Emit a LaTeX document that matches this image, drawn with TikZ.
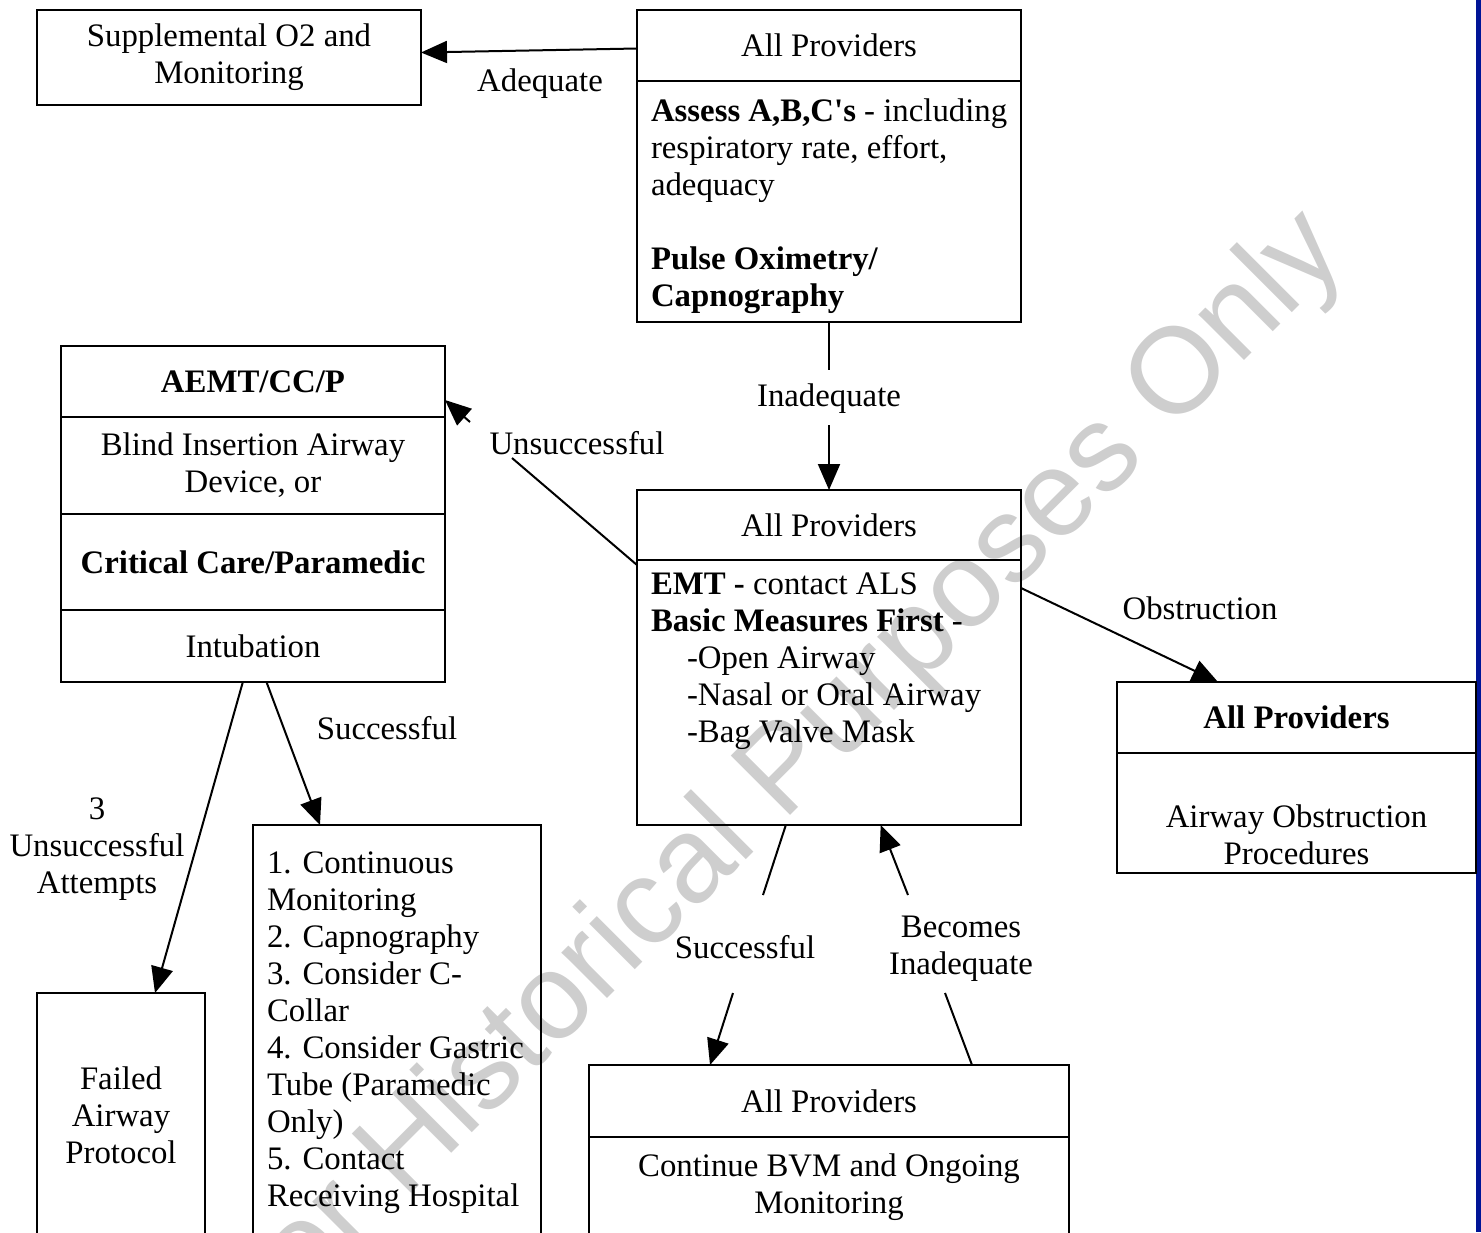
\documentclass[tikz,border=0pt]{standalone}
\usepackage{fontspec}
\setmainfont{Liberation Serif}
\newfontfamily\wmfont{Liberation Sans}
\usepackage{xcolor}
\usepackage{tikz}
\usetikzlibrary{arrows.meta}
\definecolor{wmgray}{RGB}{206,206,206}
\definecolor{edgeblue}{RGB}{0,20,150}

\begin{document}
\begin{tikzpicture}[x=0.5pt, y=-0.5pt, font=\fontsize{16.4pt}{18.5pt}\selectfont,
  box/.style={draw, line width=1.2pt, inner sep=0, outer sep=0, align=center},
  txt/.style={inner sep=0, outer sep=0, align=left, anchor=north west},
  lbl/.style={inner sep=0, align=center},
  arr/.style={line width=1pt, -{Triangle[length=13pt,width=11pt]}}]
\path[use as bounding box, clip] (0,0) rectangle (1481,1232);

% watermark
\node[inner sep=0, rotate=45, text=wmgray, font=\wmfont\fontsize{61pt}{61pt}\selectfont] (wm) at (778,783) {For Historical Purposes Only};
\fill[edgeblue] (1476,0) rectangle (1481,1232);

% boxes
\node[box, minimum width=192pt, minimum height=47.5pt] (s) at (229,57.5) {Supplemental O2 and\\ Monitoring};

\node[box, minimum width=192pt, minimum height=35.5pt] (a1) at (829,45.5) {All Providers};
\node[box, minimum width=192pt, minimum height=120.5pt] (a2) at (829,201.5) {};
\node[txt] (at) at (651,98.6) {\textbf{Assess A,B,C\textquotesingle s} - including\\ respiratory rate, effort,\\ adequacy\\[18.5pt] \textbf{Pulse Oximetry/}\\ \textbf{Capnography}};

\node[box, minimum width=192pt, minimum height=35pt] (b1) at (829,525) {All Providers};
\node[box, minimum width=192pt, minimum height=132.5pt] (b2) at (829,692.5) {};
\node[txt] (bt) at (651,572.6) {\textbf{EMT -} contact ALS\\ \textbf{Basic Measures First} -\\ \hspace*{18pt}-Open Airway\\ \hspace*{18pt}-Nasal or Oral Airway\\ \hspace*{18pt}-Bag Valve Mask};

\node[box, minimum width=192pt, minimum height=35.5pt] (c1) at (253,381.5) {\textbf{AEMT/CC/P}};
\node[box, minimum width=192pt, minimum height=48.5pt] (c2) at (253,465.5) {Blind Insertion Airway\\ Device, or};
\node[box, minimum width=192pt, minimum height=48pt] (c3) at (253,562) {\textbf{Critical Care/Paramedic}};
\node[box, minimum width=192pt, minimum height=36pt] (c4) at (253,646) {Intubation};

\node[box, minimum width=144pt, minimum height=237.5pt] (d) at (397,1062.5) {};
\node[txt] (dt) at (267,852) {1. Continuous\\ Monitoring\\ 2. Capnography\\ 3. Consider C-\\ Collar\\ 4. Consider Gastric\\ Tube (Paramedic\\ Only)\\ 5. Contact\\ Receiving Hospital};

\node[box, minimum width=84pt, minimum height=153.5pt] (f) at (121,1146.5) {};
\node[lbl] (ft) at (121,1115) {Failed\\ Airway\\ Protocol};

\node[box, minimum width=179.5pt, minimum height=35.5pt] (e1) at (1296.5,717.5) {\textbf{All Providers}};
\node[box, minimum width=179.5pt, minimum height=60pt] (e2) at (1296.5,813) {};
\node[lbl] (et) at (1296.5,835) {Airway Obstruction\\ Procedures};

\node[box, minimum width=240pt, minimum height=36pt] (g1) at (829,1101) {All Providers};
\node[box, minimum width=240pt, minimum height=81.5pt] (g2) at (829,1218.5) {};
\node[lbl] (gt) at (829,1187) {Continue BVM and Ongoing\\ Monitoring};

% labels
\node[lbl] (ade) at (540,84) {Adequate};
\node[lbl] (ina) at (829,399) {Inadequate};
\node[lbl] (uns) at (577,443) {Unsuccessful};
\node[lbl] (suc1) at (387,728) {Successful};
\node[lbl] (att) at (97,849) {3\\ Unsuccessful\\ Attempts};
\node[lbl] (suc2) at (745,947) {Successful};
\node[lbl] (bec) at (961,948.5) {Becomes\\ Inadequate};
\node[lbl] (obs) at (1200,608) {Obstruction};

% line breaks round the labels
\coordinate (i1) at (829,370);
\coordinate (i2) at (829,425);
\coordinate (u1) at (512,458);
\coordinate (u2) at (470,422);
\coordinate (s1) at (763,895);
\coordinate (s2) at (733,993);
\coordinate (bi1) at (945,993);
\coordinate (bi2) at (908,895);

\draw[arr] ([yshift=-1.5pt]a1.west) -- ([yshift=2.5pt]s.east);
\draw[line width=1pt] (a2.south) -- (i1);
\draw[arr] (i2) -- (b1.north);
\draw[line width=1pt] ([yshift=-2.5pt]b2.north west) -- (u1);
\draw[arr] (u2) -- ([yshift=-9.25pt]c1.east);
\draw[arr] ([yshift=-14pt]b2.north east) -- ([xshift=-39.25pt]e1.north);
\draw[arr] (c4) -- ([xshift=-38.5pt]d.north);
\draw[arr] (c4) -- ([xshift=17pt]f.north);
\draw[line width=1pt] (b2) -- (s1);
\draw[arr] (s2) -- ([xshift=-59.5pt]g1.north);
\draw[line width=1pt] ([xshift=71.5pt]g1.north) -- (bi1);
\draw[arr] (bi2) -- (b2);
\end{tikzpicture}
\end{document}
